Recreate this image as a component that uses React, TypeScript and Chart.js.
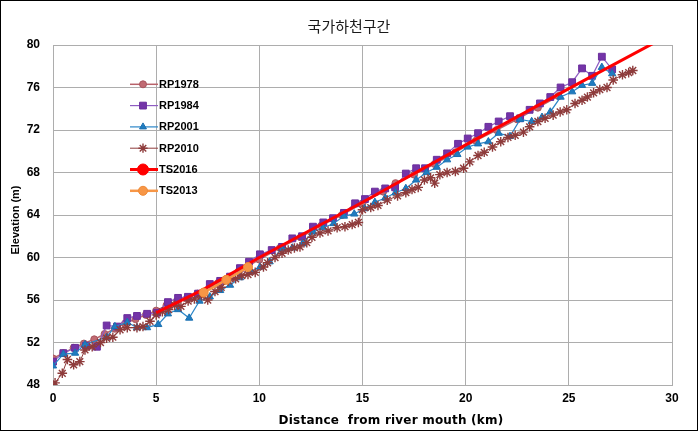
import React, { useEffect, useRef } from "react";
import { Chart, registerables } from "chart.js";
import { drawPoint } from "chart.js/helpers";

Chart.register(...registerables);

const CHART_TITLE = "국가하천구간";
const X_AXIS_TITLE = "Distance  from river mouth (km)";
const Y_AXIS_TITLE = "Elevation (m)";
const X_TICKS = [0, 5, 10, 15, 20, 25, 30];
const Y_TICKS = [48, 52, 56, 60, 64, 68, 72, 76, 80];
const SERIES_NAMES = ["RP1978", "RP1984", "RP2001", "RP2010", "TS2016", "TS2013"];

const rp1978X = [0, 0.5, 1.0, 1.5, 2.0, 2.5, 3.0, 3.5, 4.0, 4.5, 5.0, 5.5, 6.0, 6.5, 7.0, 8.0, 9.0, 10.0, 11.0, 12.0, 13.0, 14.0, 15.0, 16.0, 16.6, 17.5, 18.5, 19.5, 20.5, 21.5, 22.5, 23.5, 24.5];
const rp1978Y = [50.5, 51.0, 51.5, 51.9, 52.3, 52.8, 53.3, 53.8, 54.2, 54.6, 55.0, 55.5, 55.9, 56.2, 56.6, 57.6, 58.7, 59.8, 60.9, 61.9, 63.0, 64.0, 65.1, 66.2, 67.0, 67.8, 68.8, 69.9, 71.0, 72.0, 73.0, 74.1, 75.2];

const rp1984X = [0, 0.5, 1.07, 1.6, 2.13, 2.6, 3.1, 3.6, 4.07, 4.56, 5.04, 5.57, 6.06, 6.54, 7.03, 7.6, 8.1, 8.58, 9.06, 9.5, 10.03, 10.6, 11.1, 11.6, 12.07, 12.6, 13.1, 13.57, 14.1, 14.64, 15.12, 15.6, 16.1, 16.58, 17.1, 17.6, 18.03, 18.6, 19.1, 19.63, 20.1, 20.6, 21.1, 21.6, 22.15, 22.64, 23.1, 23.6, 24.1, 24.6, 25.16, 25.64, 26.13, 26.6, 27.1];
const rp1984Y = [50.2, 51.0, 51.5, 51.7, 51.6, 53.6, 53.5, 54.3, 54.5, 54.7, 54.8, 55.8, 56.2, 56.3, 56.6, 57.5, 57.8, 58.2, 59.0, 59.6, 60.3, 60.7, 61.0, 61.8, 62.0, 62.9, 63.3, 63.7, 64.2, 65.1, 65.5, 66.2, 66.5, 66.6, 67.9, 68.4, 68.4, 69.2, 69.8, 70.7, 71.2, 71.7, 72.3, 72.8, 73.3, 73.1, 73.9, 74.5, 75.1, 76.0, 76.5, 77.8, 77.1, 78.9, 77.7];

const rp2001X = [0, 0.5, 1.07, 1.55, 2.6, 3.0, 3.6, 4.07, 4.56, 5.1, 5.57, 6.06, 6.6, 7.1, 7.6, 8.1, 8.58, 9.06, 9.6, 10.03, 10.5, 11.1, 11.6, 12.1, 12.6, 13.1, 13.6, 14.1, 14.6, 15.1, 15.6, 16.1, 16.6, 17.1, 17.6, 18.1, 18.6, 19.1, 19.6, 20.1, 20.6, 21.1, 21.6, 22.15, 22.64, 23.2, 23.7, 24.1, 24.6, 25.16, 25.64, 26.13, 26.6, 27.1];
const rp2001Y = [49.8, 50.9, 51.0, 51.8, 52.5, 53.5, 53.9, 53.4, 53.4, 53.7, 54.7, 55.1, 54.3, 55.9, 56.3, 56.9, 57.4, 58.1, 58.7, 59.1, 59.6, 60.8, 60.9, 61.3, 62.4, 62.8, 63.2, 63.9, 64.1, 64.6, 65.2, 65.6, 66.1, 66.5, 67.3, 68.0, 68.5, 69.2, 69.7, 70.4, 70.7, 70.9, 71.7, 71.4, 73.0, 72.8, 73.2, 73.7, 75.1, 75.6, 76.2, 76.4, 77.9, 77.3];

const rp2010X = [0.1, 0.45, 0.7, 1.0, 1.3, 1.55, 1.9, 2.3, 2.6, 2.9, 3.25, 3.6, 4.07, 4.36, 4.7, 5.0, 5.3, 5.6, 5.9, 6.2, 6.55, 6.85, 7.2, 7.5, 7.85, 8.15, 8.5, 8.85, 9.15, 9.45, 9.8, 10.2, 10.4, 10.76, 11.1, 11.4, 11.7, 11.97, 12.3, 12.55, 12.94, 13.33, 13.77, 14.15, 14.5, 14.8, 15.0, 15.4, 15.75, 16.2, 16.7, 17.1, 17.4, 17.7, 18.0, 18.3, 18.5, 18.75, 19.1, 19.5, 19.9, 20.2, 20.6, 20.9, 21.3, 21.7, 22.05, 22.4, 22.8, 23.1, 23.5, 23.85, 24.24, 24.58, 24.9, 25.3, 25.64, 25.9, 26.2, 26.5, 26.85, 27.15, 27.6, 27.9, 28.1];
const rp2010Y = [48.2, 49.1, 50.4, 49.9, 50.2, 51.3, 51.6, 52.0, 52.4, 52.5, 53.2, 53.4, 53.4, 53.5, 54.0, 54.6, 54.9, 55.1, 55.5, 55.4, 55.9, 56.1, 56.4, 56.0, 56.8, 57.2, 57.8, 58.0, 58.3, 58.4, 58.6, 59.1, 59.5, 60.0, 60.4, 60.7, 60.9, 61.0, 61.4, 61.9, 62.3, 62.5, 62.8, 62.9, 63.1, 63.3, 64.5, 64.7, 64.9, 65.4, 65.8, 66.1, 66.4, 66.6, 67.3, 67.5, 67.0, 67.8, 68.0, 68.1, 68.4, 69.0, 69.6, 69.9, 70.4, 70.9, 71.3, 71.5, 71.8, 72.3, 72.8, 73.1, 73.4, 73.7, 73.9, 74.5, 74.8, 75.1, 75.5, 75.8, 76.0, 76.7, 77.2, 77.4, 77.6];

const ts2016X = [5.0, 7.3, 10.0, 15.0, 20.0, 25.0, 30.0];
const ts2016Y = [54.8, 57.0, 60.0, 65.2, 70.6, 75.9, 81.1];

const ts2013X = [7.3, 8.4, 9.45];
const ts2013Y = [56.7, 57.9, 59.1];

const SERIES_X = [rp1978X, rp1984X, rp2001X, rp2010X, ts2016X, ts2013X];
const SERIES_Y = [rp1978Y, rp1984Y, rp2001Y, rp2010Y, ts2016Y, ts2013Y];

const STYLES = [
  { line: "#B8626A", fill: "#C06A72", stroke: "#A8555E", point: "circle", lw: 1.5, pr: 3.5, legendR: 3.5 },
  { line: "#8E5CC2", fill: "#7434A8", stroke: "#6A2E9C", point: "rect", lw: 1.2, pr: 4.8, legendR: 4.8 },
  { line: "#2B86C8", fill: "#1F7CC0", stroke: "#1B70B0", point: "triangle", lw: 1.2, pr: 4.2, legendR: 4.0 },
  { line: "#8E3B3B", fill: "#8E3B3B", stroke: "#8E3B3B", point: "star", lw: 1.0, pr: 4.8, legendR: 4.6 },
  { line: "#FF0000", fill: "#FF0000", stroke: "#FF0000", point: "circle", lw: 3, pr: 0, legendR: 5.5 },
  { line: "#F79646", fill: "#F79646", stroke: "#F08A36", point: "circle", lw: 2.5, pr: 4.5, legendR: 4.5 },
];

const GRID = "#ADADAD";
const FONT = "'Liberation Sans', Arial, sans-serif";

export default function App() {
  const ref = useRef<HTMLCanvasElement | null>(null);

  useEffect(() => {
    document.body.style.margin = "0";
    const canvas = ref.current;
    if (!canvas) return;

    const datasets = SERIES_NAMES.map((name, i) => {
      const s = STYLES[i];
      return {
        label: name,
        data: SERIES_X[i].map((x, j) => ({ x, y: SERIES_Y[i][j] })),
        showLine: true,
        borderColor: s.line,
        borderWidth: s.lw,
        backgroundColor: s.fill,
        pointStyle: s.point,
        pointRadius: s.pr,
        pointBackgroundColor: s.fill,
        pointBorderColor: s.stroke,
        pointBorderWidth: i === 3 ? 1.4 : 1,
        order: SERIES_NAMES.length - i,
        tension: 0,
      };
    });

    const framePlugin = {
      id: "frame",
      beforeDraw(chart: any) {
        const c = chart.ctx;
        c.save();
        c.fillStyle = "#ffffff";
        c.fillRect(0, 0, chart.width, chart.height);
        c.restore();
      },
      afterDraw(chart: any) {
        const c = chart.ctx;
        const a = chart.chartArea;
        c.save();
        c.strokeStyle = "#000000";
        c.lineWidth = 1;
        c.strokeRect(0.5, 0.5, chart.width - 1, chart.height - 1);
        c.fillStyle = "#1a1a1a";
        c.font = "15px 'Noto Sans CJK KR', sans-serif";
        c.textAlign = "center";
        c.textBaseline = "middle";
        c.fillText(CHART_TITLE, chart.width / 2, 26);
        c.fillStyle = "#000000";
        c.font = "bold 12px 'DejaVu Sans', sans-serif";
        (c as any).letterSpacing = "0.2px";
        c.fillText(X_AXIS_TITLE, 391, 421);
        (c as any).letterSpacing = "0px";
        c.font = `bold 11px ${FONT}`;
        c.save();
        c.translate(16, 220);
        c.rotate(-Math.PI / 2);
        c.fillText(Y_AXIS_TITLE, 0, 0);
        c.restore();
        const lx0 = a.left + 77;
        const lx1 = a.left + 105;
        const mx = a.left + 90;
        const tx = a.left + 106;
        c.font = `bold 11px ${FONT}`;
        c.textAlign = "left";
        c.textBaseline = "middle";
        SERIES_NAMES.forEach((name, i) => {
          const s = STYLES[i];
          const y = a.top + 39.3 + i * 21.3;
          c.strokeStyle = s.line;
          c.lineWidth = s.lw;
          c.beginPath();
          c.moveTo(lx0, y);
          c.lineTo(lx1, y);
          c.stroke();
          c.fillStyle = s.fill;
          c.strokeStyle = s.stroke;
          c.lineWidth = i === 3 ? 1.4 : 1;
          drawPoint(c, { pointStyle: s.point, radius: s.legendR, rotation: 0, borderWidth: 1 } as any, mx, y);
          c.fillStyle = "#000000";
          c.fillText(name, tx, y + 0.5);
        });
        c.restore();
      },
    };

    const chart = new Chart(canvas, {
      type: "scatter",
      data: { datasets: datasets as any },
      options: {
        responsive: false,
        animation: false,
        devicePixelRatio: 1,
        layout: { padding: { top: 45, right: 26, left: 0, bottom: 0 } },
        plugins: {
          legend: { display: false },
          tooltip: { enabled: false },
          title: { display: false },
        },
        scales: {
          x: {
            type: "linear",
            min: 0,
            max: 30,
            afterBuildTicks: (s: any) => {
              s.ticks = X_TICKS.map((v) => ({ value: v }));
            },
            afterFit: (s: any) => {
              s.height = 46;
            },
            grid: { color: GRID, drawTicks: false, lineWidth: 1 },
            border: { color: GRID, width: 1 },
            ticks: {
              color: "#000000",
              padding: 6,
              font: { family: FONT, size: 12, weight: "bold" },
            },
          },
          y: {
            type: "linear",
            min: 48,
            max: 80,
            afterBuildTicks: (s: any) => {
              s.ticks = Y_TICKS.map((v) => ({ value: v }));
            },
            afterFit: (s: any) => {
              s.width = 53;
            },
            grid: { color: GRID, drawTicks: false, lineWidth: 1 },
            border: { color: GRID, width: 1 },
            ticks: {
              color: "#000000",
              padding: 13,
              font: { family: FONT, size: 12, weight: "bold" },
            },
          },
        },
      },
      plugins: [framePlugin],
    });

    return () => chart.destroy();
  }, []);

  return (
    <div style={{ width: 698, height: 431 }}>
      <canvas ref={ref} width={698} height={431} style={{ width: 698, height: 431, display: "block" }} />
    </div>
  );
}
